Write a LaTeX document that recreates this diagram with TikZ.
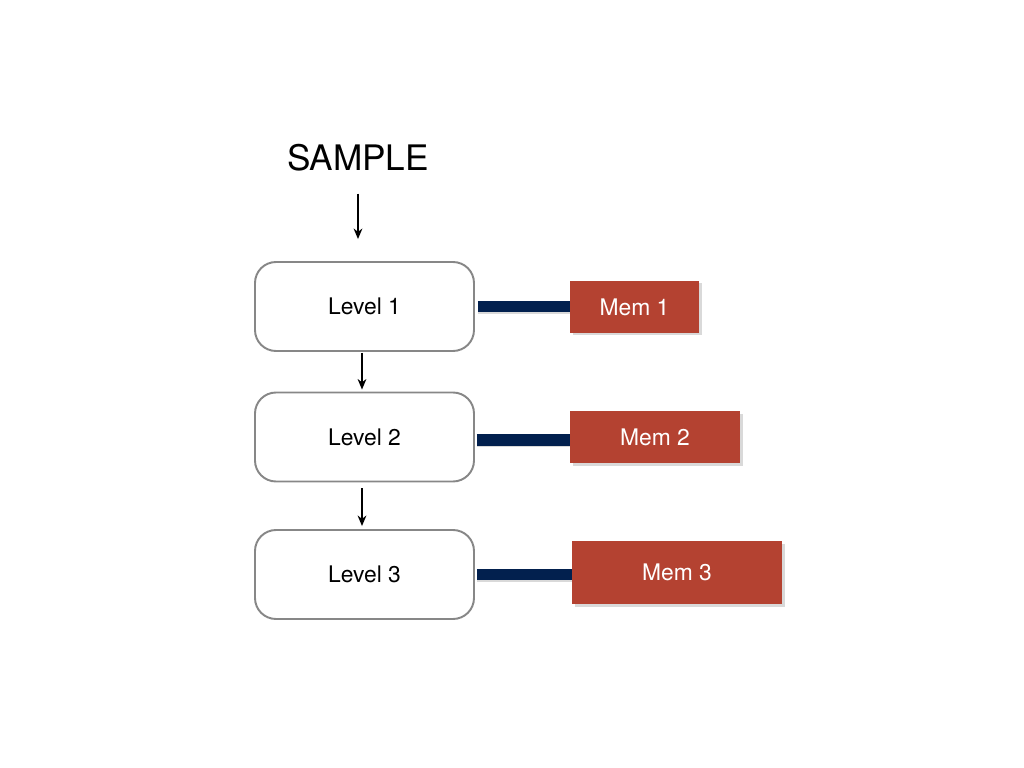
\documentclass[tikz,border=0pt]{standalone}
\usepackage{fontspec}
\setmainfont{TeX Gyre Heros}
\usetikzlibrary{arrows.meta,shadows}
\definecolor{memred}{RGB}{180,66,49}
\definecolor{navybar}{RGB}{2,32,78}
\definecolor{boxgray}{RGB}{135,135,135}

\begin{document}
\begin{tikzpicture}[
	levelbox/.style={draw=boxgray,line width=1.1pt,rounded corners=0.42cm,fill=white,minimum width=4.38cm,minimum height=1.78cm,font=\fontsize{13}{15}\selectfont},
	membox/.style={fill=memred,text=white,minimum height=1.04cm,font=\fontsize{13}{15}\selectfont,drop shadow={opacity=0.3,shadow xshift=0.05cm,shadow yshift=-0.05cm}},
	flow/.style={-{Stealth[length=6pt,width=5pt]},line width=0.8pt,black},
	bar/.style={navybar,line width=6.5pt,preaction={draw=black!15,line width=6.5pt,transform canvas={yshift=-0.03cm}}}]
	\useasboundingbox (0,0) rectangle (20.48,-15.36);

	\node(sample) at (7.16,-3.16)[font=\fontsize{20}{24}\selectfont]{SAMPLE};
	\node(lvl1) at (7.29,-6.13)[levelbox]{Level 1};
	\node(lvl2) at (7.29,-8.74)[levelbox]{Level 2};
	\node(lvl3) at (7.29,-11.49)[levelbox]{Level 3};

	\node(mem1) at (12.69,-6.14)[membox,minimum width=2.58cm]{Mem 1};
	\node(mem2) at (13.10,-8.74)[membox,minimum width=3.40cm]{Mem 2};
	\node(mem3) at (13.54,-11.45)[membox,minimum width=4.20cm,minimum height=1.26cm]{Mem 3};

	\draw[flow,shorten <=0.32cm,shorten >=0.44cm](sample.south) to (sample.south |- lvl1.north);
	\draw[flow,shorten <=0.02cm,shorten >=0.04cm]([xshift=-0.05cm]lvl1.south) to ([xshift=-0.05cm]lvl2.north);
	\draw[flow,shorten <=0.12cm,shorten >=0.06cm]([xshift=-0.05cm]lvl2.south) to ([xshift=-0.05cm]lvl3.north);

	% bars kept level with each box
	\draw[bar,shorten <=0.06cm](lvl1.east) to (lvl1.east -| mem1.west);
	\draw[bar,shorten <=0.04cm]([yshift=-0.06cm]lvl2.east) to ([yshift=-0.06cm]lvl2.east -| mem2.west);
	\draw[bar,shorten <=0.04cm](lvl3.east) to (lvl3.east -| mem3.west);
\end{tikzpicture}
\end{document}
